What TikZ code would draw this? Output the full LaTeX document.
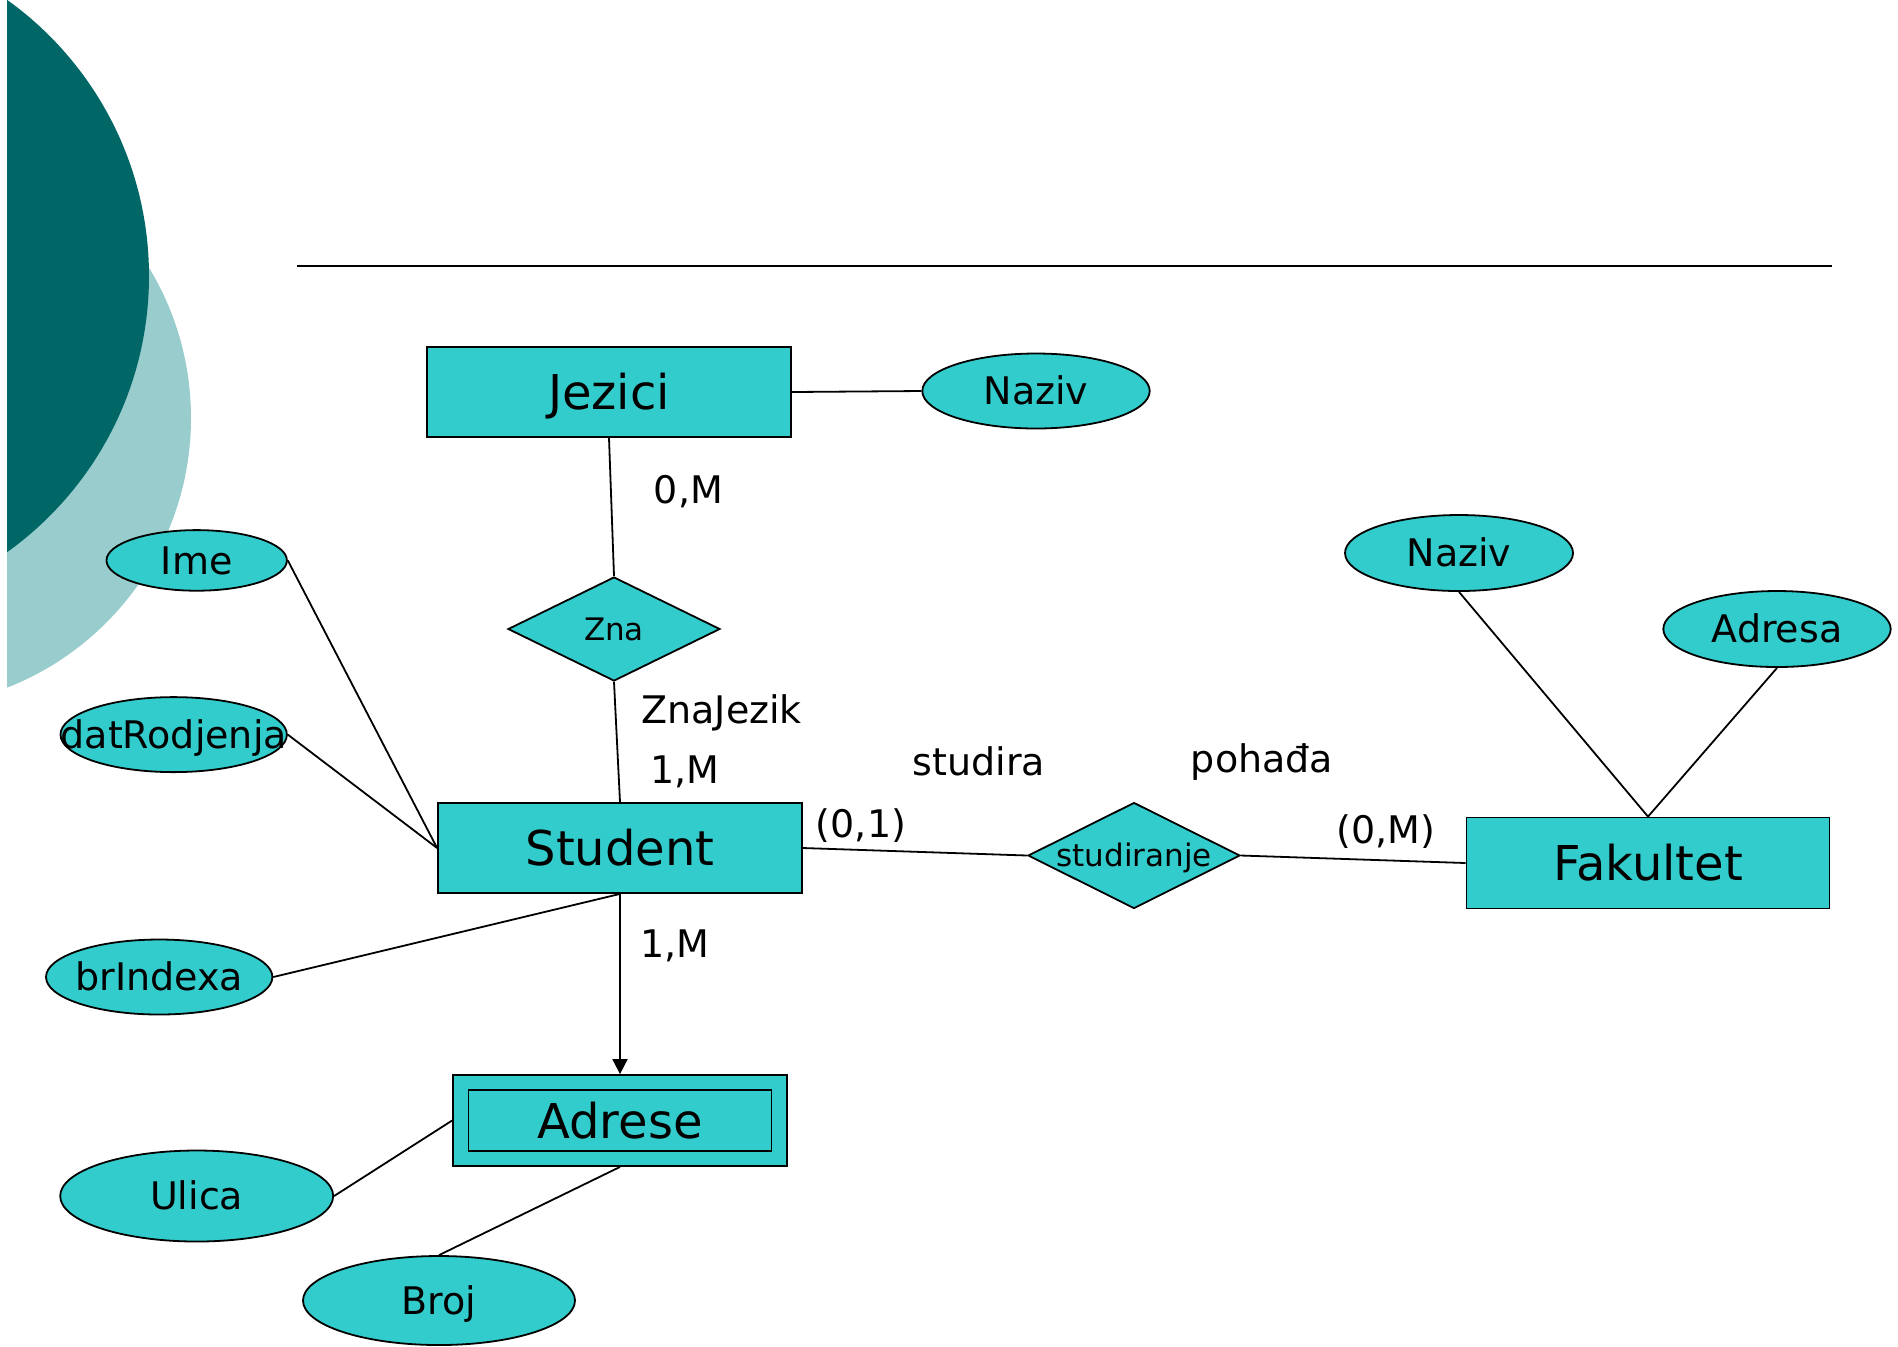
\documentclass[tikz,border=0pt]{standalone}
\usepackage{fontspec}
\setmainfont{DejaVu Sans}
\usetikzlibrary{shapes.geometric,arrows.meta}

\definecolor{erfill}{HTML}{33CCCC}
\definecolor{tealdark}{HTML}{006666}
\definecolor{teallight}{HTML}{99CCCC}

\tikzset{
  bigtext/.style={font=\fontsize{24}{28}\selectfont, text height=17.5pt, text depth=0pt},
  midtext/.style={font=\fontsize{19}{22}\selectfont, text height=13.9pt, text depth=0pt},
  smalltext/.style={font=\fontsize{15.5}{18}\selectfont, text height=11.3pt, text depth=0pt},
  entity/.style={draw, fill=erfill, rectangle, inner sep=0pt, bigtext},
  weakinner/.style={draw, rectangle, inner sep=0pt, bigtext},
  attr/.style={draw, fill=erfill, ellipse, inner sep=0pt},
  rel/.style={draw, fill=erfill, diamond, inner sep=0pt},
  lbl/.style={midtext, inner sep=0pt, anchor=base, text height=, text depth=},
  conn/.style={draw, line width=0.9pt},
}

\begin{document}
\begin{tikzpicture}[x=0.5pt, y=-0.5pt, line width=0.9pt]
\useasboundingbox (0,0) rectangle (1898,1346);

% decorative circles in the upper left corner
\begin{scope}
  \clip (7,0) rectangle (500,900);
  \fill[teallight] (-98.5,418) circle (289.5);
  \fill[tealdark] (-190.6,276) circle (339.6);
\end{scope}

% title rule
\draw[line width=1pt] (297,266) -- (1832,266);

% entities
\node[entity, minimum width=182pt, minimum height=45pt] (jezici) at (609,392) {Jezici};
\node[entity, minimum width=182pt, minimum height=45pt] (student) at (620,848) {Student};
\node[entity, minimum width=181.5pt, minimum height=45.5pt] (fakultet) at (1648,863) {Fakultet};
\node[entity, minimum width=167pt, minimum height=45.5pt] (adrese) at (620,1120.5) {};
\node[weakinner, minimum width=151.5pt, minimum height=30.5pt] (adreseIn) at (adrese.center) {Adrese};

% relationships
\node[rel, minimum width=106pt, minimum height=52pt] (zna) at (614,629) {};
\node[smalltext, inner sep=0pt] (znaT) at (zna.center) {Zna};
\node[rel, minimum width=106pt, minimum height=53pt] (studiranje) at (1134,855.5) {};
\node[smalltext, inner sep=0pt] (studiranjeT) at (studiranje.center) {studiranje};

% attributes
\node[attr, minimum width=113.7pt, minimum height=37.5pt] (naziv1) at (1036,391) {};
\node[midtext, inner sep=0pt] (naziv1T) at (naziv1.center) {Naziv};
\node[attr, minimum width=114pt, minimum height=38pt] (naziv2) at (1459,553) {};
\node[midtext, inner sep=0pt] (naziv2T) at (naziv2.center) {Naziv};
\node[attr, minimum width=113.7pt, minimum height=38pt] (adresa) at (1777,629) {};
\node[midtext, inner sep=0pt] (adresaT) at (adresa.center) {Adresa};
\node[attr, minimum width=90.2pt, minimum height=30.3pt] (ime) at (196.7,560.4) {};
\node[midtext, inner sep=0pt] (imeT) at (ime.center) {Ime};
\node[attr, minimum width=113.2pt, minimum height=37.5pt] (datrod) at (173.7,734.6) {};
\node[midtext, inner sep=0pt] (datrodT) at (datrod.center) {datRodjenja};
\node[attr, minimum width=113.2pt, minimum height=37.5pt] (brindexa) at (159.2,977) {};
\node[midtext, inner sep=0pt] (brindexaT) at (brindexa.center) {brIndexa};
\node[attr, minimum width=136.5pt, minimum height=45.5pt] (ulica) at (196.7,1196) {};
\node[midtext, inner sep=0pt] (ulicaT) at (ulica.center) {Ulica};
\node[attr, minimum width=136pt, minimum height=44.5pt] (broj) at (439,1300.5) {};
\node[midtext, inner sep=0pt] (brojT) at (broj.center) {Broj};

% connectors
\draw (jezici.east) -- (naziv1.west);
\draw (jezici.south) -- (zna.north);
\draw (zna.south) -- (student.north);
\draw (ime.east) -- (student.west);
\draw (datrod.east) -- (student.west);
\draw (brindexa.east) -- (student.south);
\draw[-{Triangle[length=7.5pt,width=7.5pt]}] (student.south) -- (adrese.north);
\draw (ulica.east) -- (adrese.west);
\draw (broj.north) -- (adrese.south);
\draw (student.east) -- (studiranje.west);
\draw (studiranje.east) -- (fakultet.west);
\draw (naziv2.south) -- (fakultet.north);
\draw (adresa.south) -- (fakultet.north);

% cardinalities and role names
\node[lbl] (c1) at (688.5,503) {0,M};
\node[lbl] (r1) at (721.7,723) {ZnaJezik};
\node[lbl] (c2) at (685,783) {1,M};
\node[lbl] (c3) at (675,957) {1,M};
\node[lbl] (c4) at (861,837) {(0,1)};
\node[lbl] (r2) at (979,775) {studira};
\node[lbl] (r3) at (1262,772) {pohađa};
\node[lbl] (c5) at (1386,843) {(0,M)};
\end{tikzpicture}
\end{document}
